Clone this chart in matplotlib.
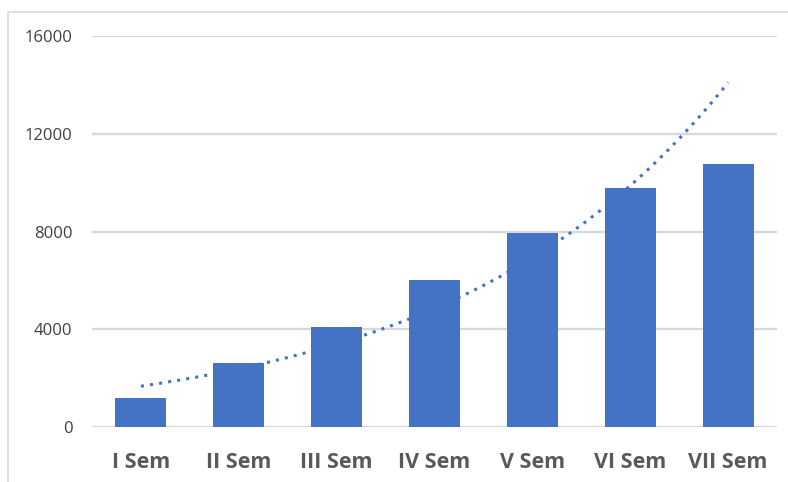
import numpy as np
import matplotlib
matplotlib.use('Agg')
from matplotlib import pyplot as plt
from matplotlib.patches import Rectangle

semesters = ['I Sem', 'II Sem', 'III Sem', 'IV Sem', 'V Sem', 'VI Sem', 'VII Sem']
values = [1180, 2600, 4080, 6000, 7950, 9800, 10780]
y_ticks = [0, 4000, 8000, 12000, 16000]

bar_color = '#4472C4'
grid_color = '#d9d9d9'

plt.rcParams['font.family'] = ['Open Sans', 'DejaVu Sans']

fig = plt.figure(figsize=(7.88, 4.82), dpi=100)
ax = fig.add_axes([92/788, 55/482, 685/788, 391/482])

x = np.arange(len(semesters))
ax.bar(x, values, width=0.52, color=bar_color, zorder=3)

# exponential trendline (Excel style), fitted on the bar values
b, a = np.polyfit(x + 1, np.log(values), 1)
xs = np.linspace(1, len(values), 200)
ax.plot(xs - 1, np.exp(a + b * xs), color=bar_color, linestyle=(0, (1, 2)),
        linewidth=2.2, zorder=4)

ax.set_xlim(-0.5, len(semesters) - 0.5)
ax.set_ylim(0, 16000)
ax.set_yticks(y_ticks)
ax.set_yticklabels([str(v) for v in y_ticks])
ax.set_xticks(x)
ax.set_xticklabels(semesters, fontsize=15.5, fontweight='bold', color='#595959')
ax.tick_params(axis='y', length=0, pad=14, labelsize=12, labelcolor='#404040')
ax.tick_params(axis='x', length=0, pad=18)
ax.yaxis.grid(True, color=grid_color, linewidth=1.7, zorder=0)
for s in ax.spines.values():
    s.set_visible(False)

# outer chart border
fig.patches.append(Rectangle((8/788, -0.01), 1.0, 1 - 12/482 + 0.01,
                             transform=fig.transFigure, fill=False,
                             edgecolor='#d9d9d9', linewidth=1.2))

fig.savefig('out.png', dpi=100)
